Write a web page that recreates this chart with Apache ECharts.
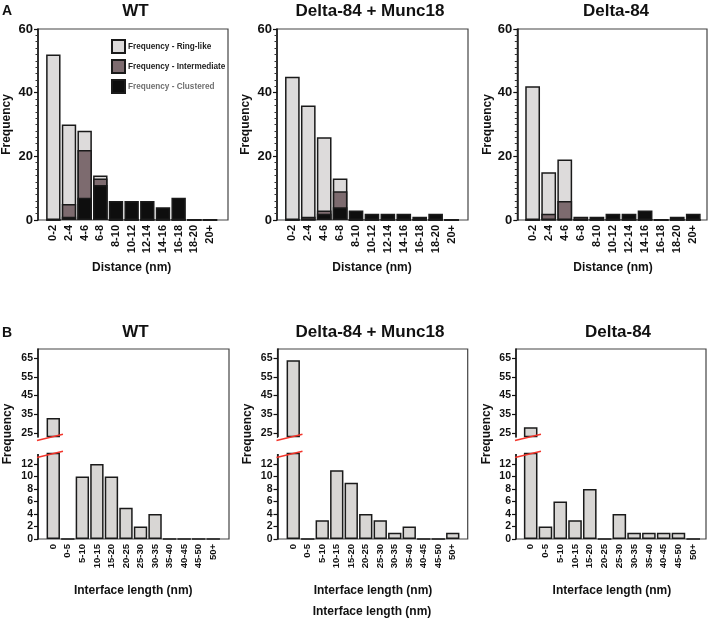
<!DOCTYPE html>
<html>
<head>
<meta charset="utf-8">
<script src="https://cdn.jsdelivr.net/npm/echarts@6/dist/echarts.min.js"></script>
<style>html,body{margin:0;padding:0;background:#fff;}#c{width:709px;height:621px;}</style>
</head>
<body>
<div id="c"></div>
<script>
// ---------- data ----------
const catsA = ['0-2','2-4','4-6','6-8','8-10','10-12','12-14','14-16','16-18','18-20','20+'];
const catsB = ['0','0-5','5-10','10-15','15-20','20-25','25-30','30-35','35-40','40-45','45-50','50+'];
const seriesNames = ['Frequency - Ring-like','Frequency - Intermediate','Frequency - Clustered'];
const titlesTop = ['WT','Delta-84 + Munc18','Delta-84'];

const wtRing   = [52,30,28,14,0,0,0,0,0,0,0];
const wtInter  = [0,5,22,13,0,0,0,0,0,0,0];
const wtClust  = [0,1,7,11,6,6,6,4,7,0,0];
const muRing   = [45,36,26,13,0,0,0,0,0,0,0];
const muInter  = [0,1,3,9,0,0,0,0,0,0,0];
const muClust  = [0,0,2,4,3,2,2,2,1,2,0];
const deRing   = [42,15,19,0,0,0,0,0,0,0,0];
const deInter  = [0,2,6,1,0,0,0,0,0,0,0];
const deClust  = [0,0,0,0,1,2,2,3,0,1,2];

const wtLen = [33,0,10,12,10,5,2,4,0,0,0,0];
const muLen = [64,0,3,11,9,4,3,1,2,0,0,1];
const deLen = [28,2,6,3,8,0,4,1,1,1,1,0];

const ticksA = [0,20,40,60];
const ticksBUpper = [25,35,45,55,65];
const ticksBLower = [0,2,4,6,8,10,12];

// ---------- layout ----------
const FONT = 'Liberation Sans, Arial, Helvetica, sans-serif';
const framesA = [[38,228],[277,468],[517.3,707]];
const bandsA  = [[45.5,217.8],[284.4,459.5],[524.6,701.3]];
const framesB = [[38,229],[277.5,467.7],[516,706]];
const bandsB  = [[46,220.5],[286,460],[523.3,700.6]];
const A_TOP = 29, A_H = 191;
const B_TOP = 349, B_H = 190;
const BU_TOP = 349, BU_H = 87.5, BU_MIN = 23, BU_MAX = 70;
const BL_TOP = 453.5, BL_H = 85.5, BL_MAX = 13.7;

const colRing = '#dddbdb', colInter = '#7d6b6f', colClust = '#0e0e0e', colB = '#d8d6d4';
const edge = '#1a1a1a';

const dataA = [[wtRing,wtInter,wtClust],[muRing,muInter,muClust],[deRing,deInter,deClust]];
const dataB = [wtLen, muLen, deLen];

const grid = [], xAxis = [], yAxis = [], series = [], graphic = [];
const bold = (s, c) => ({fontFamily: FONT, fontWeight: 'bold', fontSize: s, color: c || '#111'});

// frames (grids 0-5)
framesA.forEach(f => grid.push({left: f[0], top: A_TOP, width: f[1]-f[0], height: A_H, show: true, borderColor: '#444', borderWidth: 1.2, backgroundColor: 'transparent'}));
framesB.forEach(f => grid.push({left: f[0], top: B_TOP, width: f[1]-f[0], height: B_H, show: true, borderColor: '#444', borderWidth: 1.2, backgroundColor: 'transparent'}));

function catAxis(gi, cats, show, fs, gap, name) {
  return {
    gridIndex: gi, type: 'category', data: cats, show: show,
    axisLine: {show: false}, axisTick: {show: false},
    axisLabel: {rotate: 90, interval: 0, margin: 5, ...bold(fs)},
    name: name || '', nameLocation: 'middle', nameGap: gap || 0,
    nameTextStyle: bold(12)
  };
}
function valAxis(gi, off, min, max, opts) {
  return Object.assign({
    gridIndex: gi, type: 'value', min: min, max: max, offset: off,
    axisLine: {show: true, lineStyle: {color: '#111', width: 1.5}},
    axisTick: {show: true, length: 4, lineStyle: {color: '#111', width: 1.2}},
    splitLine: {show: false}
  }, opts);
}

// Panel A (grids 6-8)
for (let p = 0; p < 3; p++) {
  const gi = grid.length;
  grid.push({left: bandsA[p][0], top: A_TOP, width: bandsA[p][1]-bandsA[p][0], height: A_H});
  xAxis.push(catAxis(gi, catsA, true, 11, 42, 'Distance (nm)'));
  yAxis.push(valAxis(gi, bandsA[p][0]-framesA[p][0], 0, 60, {
    interval: 20,
    minorTick: {show: true, splitNumber: 10, length: 2.5, lineStyle: {color: '#333', width: 1}},
    axisLabel: {margin: 5, ...bold(13), customValues: ticksA},
    name: 'Frequency', nameLocation: 'middle', nameGap: 25 - (p === 2 ? 1 : 0), nameTextStyle: bold(12)
  }));
  const ai = xAxis.length - 1;
  const cols = [colRing, colInter, colClust];
  dataA[p].forEach((d, k) => series.push({
    type: 'bar', name: seriesNames[k], xAxisIndex: ai, yAxisIndex: ai, data: d,
    barGap: '-100%', barCategoryGap: '8%',
    itemStyle: {color: cols[k], borderColor: edge, borderWidth: 1.5},
    emphasis: {disabled: true}
  }));
}
// Panel B upper (grids 9-11) and lower (12-14)
for (let p = 0; p < 3; p++) {
  const gi = grid.length;
  grid.push({left: bandsB[p][0], top: BU_TOP, width: bandsB[p][1]-bandsB[p][0], height: BU_H});
  xAxis.push(catAxis(gi, catsB, false, 9.5));
  yAxis.push(valAxis(gi, bandsB[p][0]-framesB[p][0], BU_MIN, BU_MAX, {
    axisTick: {show: true, length: 4, customValues: ticksBUpper, lineStyle: {color: '#111', width: 1.2}},
    axisLabel: {margin: 5, ...bold(10.5), customValues: ticksBUpper}
  }));
  const ai = xAxis.length - 1;
  series.push({type: 'bar', xAxisIndex: ai, yAxisIndex: ai,
    data: dataB[p].map(v => v > BU_MIN ? v : null), barCategoryGap: '8%',
    itemStyle: {color: colB, borderColor: edge, borderWidth: 1.5}, emphasis: {disabled: true}});
}
for (let p = 0; p < 3; p++) {
  const gi = grid.length;
  grid.push({left: bandsB[p][0], top: BL_TOP, width: bandsB[p][1]-bandsB[p][0], height: BL_H});
  xAxis.push(catAxis(gi, catsB, true, 9.5, 46, 'Interface length (nm)'));
  yAxis.push(valAxis(gi, bandsB[p][0]-framesB[p][0], 0, BL_MAX, {
    axisTick: {show: true, length: 4, customValues: ticksBLower, lineStyle: {color: '#111', width: 1.2}},
    axisLabel: {margin: 5, ...bold(10.5), customValues: ticksBLower}
  }));
  const ai = xAxis.length - 1;
  series.push({type: 'bar', xAxisIndex: ai, yAxisIndex: ai, data: dataB[p], barCategoryGap: '8%',
    itemStyle: {color: colB, borderColor: edge, borderWidth: 1.5}, emphasis: {disabled: true}});
}

// axis breaks, B y-titles
const yNameX = [8, 248, 487];
framesB.forEach((f, p) => {
  const L = f[0];
  graphic.push({type: 'rect', z: 99, shape: {x: L-2, y: 438, width: 4, height: 16}, style: {fill: '#fff'}});
  graphic.push({type: 'line', z: 100, shape: {x1: L-1, y1: 440.5, x2: L+25, y2: 434.3}, style: {stroke: '#f2352b', lineWidth: 1.4}});
  graphic.push({type: 'line', z: 100, shape: {x1: L-1, y1: 457.5, x2: L+25, y2: 451.3}, style: {stroke: '#f2352b', lineWidth: 1.4}});
  graphic.push({type: 'text', z: 100, x: yNameX[p], y: 434, rotation: Math.PI/2,
    style: {text: 'Frequency', fontFamily: FONT, fontWeight: 'bold', fontSize: 12, fill: '#111', align: 'center', verticalAlign: 'middle'}});
});

const titleCentersA = [135.5, 370, 616];
const titleCentersB = [135.5, 370, 618];
const title = [
  {text: 'A', left: 2, top: 4, padding: 0, textStyle: bold(14)},
  {text: 'B', left: 2, top: 326, padding: 0, textStyle: bold(14)},
  {text: 'Interface length (nm)', left: 372, top: 606, textAlign: 'center', padding: 0, textStyle: bold(12)}
];
titlesTop.forEach((t, p) => {
  title.push({text: t, left: titleCentersA[p], top: 3, textAlign: 'center', padding: 0, textStyle: bold(17)});
  title.push({text: t, left: titleCentersB[p], top: 324, textAlign: 'center', padding: 0, textStyle: bold(17)});
});

const option = {
  animation: false,
  backgroundColor: '#fff',
  title, grid, xAxis, yAxis, series, graphic,
  legend: {
    left: 111, top: 39, orient: 'vertical', padding: 0, itemGap: 5, itemWidth: 13, itemHeight: 13,
    icon: 'rect', selectedMode: false,
    textStyle: {fontFamily: FONT, fontWeight: 'bold', fontSize: 8.2, color: '#222', padding: [0,0,0,-2]},
    data: [{name: seriesNames[0]}, {name: seriesNames[1]}, {name: seriesNames[2], textStyle: {color: '#707070'}}]
  }
};
const chart = echarts.init(document.getElementById('c'), null, {renderer: 'canvas'});
chart.setOption(option);
</script>
</body>
</html>
